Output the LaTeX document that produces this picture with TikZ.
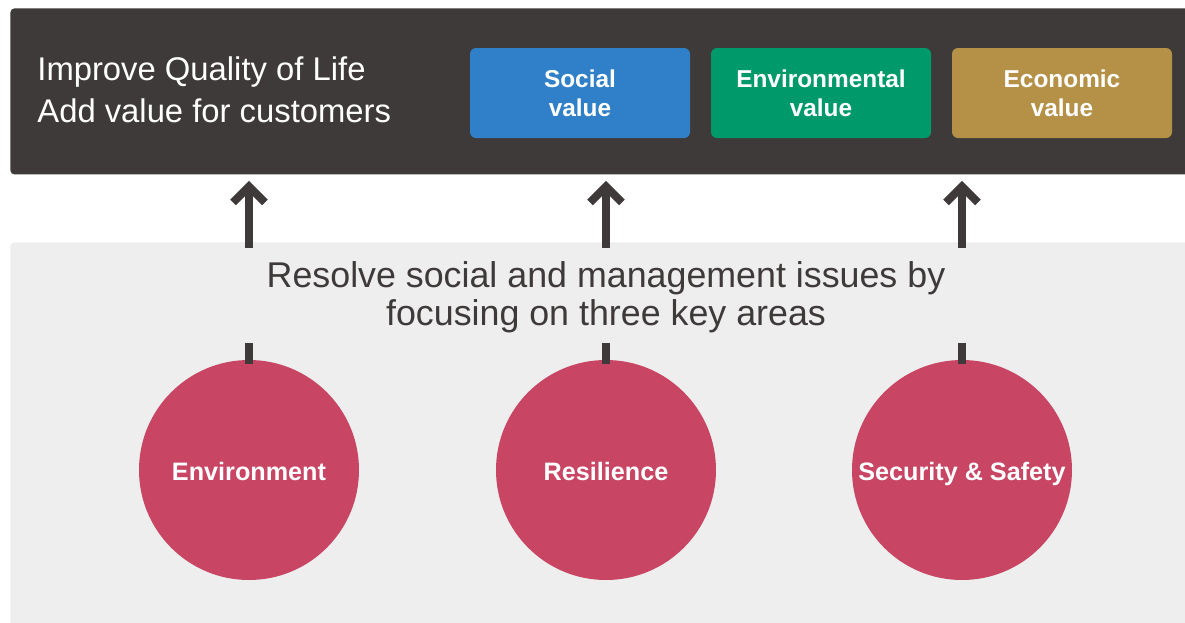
\documentclass[tikz,border=0pt]{standalone}
\usepackage{fontspec}
\setmainfont{Liberation Sans}
\usetikzlibrary{arrows.meta}
\definecolor{panelgray}{HTML}{3E3A39}
\definecolor{basegray}{HTML}{EEEEEE}
\definecolor{socblue}{HTML}{2F80C9}
\definecolor{envgreen}{HTML}{00996A}
\definecolor{ecogold}{HTML}{B49146}
\definecolor{areared}{HTML}{C84563}
\begin{document}
\begin{tikzpicture}[x=0.5pt, y=-0.5pt,
    valuebox/.style={rounded corners=3pt, minimum width=110pt, minimum height=45pt,
        text=white, align=center, inner sep=0pt,
        font=\fontsize{12.2}{14.5}\selectfont\bfseries},
    area/.style={circle, fill=areared, minimum size=110pt, inner sep=0pt,
        text=white, text height=1.04em, text depth=0pt,
        font=\fontsize{12.6}{15}\selectfont\bfseries},
    uparrow/.style={draw=panelgray, line width=4pt,
        -{Straight Barb[length=8pt, width=16pt, line width=4pt]}},
    stub/.style={draw=panelgray, line width=4pt}]
    \useasboundingbox[fill=white] (0,0) rectangle (1185,622);
    % panels
    \node (goal) [fill=panelgray, rounded corners=2pt, minimum width=592.5pt,
        minimum height=83pt, anchor=north west, inner sep=0pt] at (10,8) {};
    \node (base) [fill=basegray, rounded corners=2pt, minimum width=592.5pt,
        minimum height=195pt, anchor=north west, inner sep=0pt] at (10,242) {};
    % goal text
    \node (qol) [anchor=base west, inner sep=0pt, text=white,
        font=\fontsize{16.4}{20}\selectfont] at (37,80) {Improve Quality of Life};
    \node (addval) [anchor=base west, inner sep=0pt, text=white,
        font=\fontsize{16.4}{20}\selectfont] at (37,122) {Add value for customers};
    \node (social) [valuebox, fill=socblue] at (580,93) {Social\\value};
    \node (environ) [valuebox, fill=envgreen] at (821,93) {Environmental\\value};
    \node (economic) [valuebox, fill=ecogold] at (1062,93) {Economic\\value};
    % focus text
    \node (resolve) [anchor=base, inner sep=0pt, text=panelgray,
        font=\fontsize{17.9}{20}\selectfont] at (606,287)
        {Resolve social and management issues by};
    \node (focus) [anchor=base, inner sep=0pt, text=panelgray,
        font=\fontsize{17.9}{20}\selectfont] at (606,325)
        {focusing on three key areas};
    % key areas
    \node (envarea) [area] at (249,470) {Environment};
    \node (resarea) [area] at (606,470) {Resilience};
    \node (secarea) [area] at (962,470) {Security \& Safety};
    % connectors
    \foreach \a in {envarea, resarea, secarea} {
        \coordinate (\a-low) at ([yshift=-3pt]\a.north |- base.north);
        \draw[uparrow] (\a-low) -- ([yshift=-3pt]\a.north |- goal.south);
        \coordinate (\a-stub) at (\a.north |- 0,343);
        \draw[stub] (\a-stub) -- ([yshift=-2pt]\a.north);
    }
\end{tikzpicture}
\end{document}
